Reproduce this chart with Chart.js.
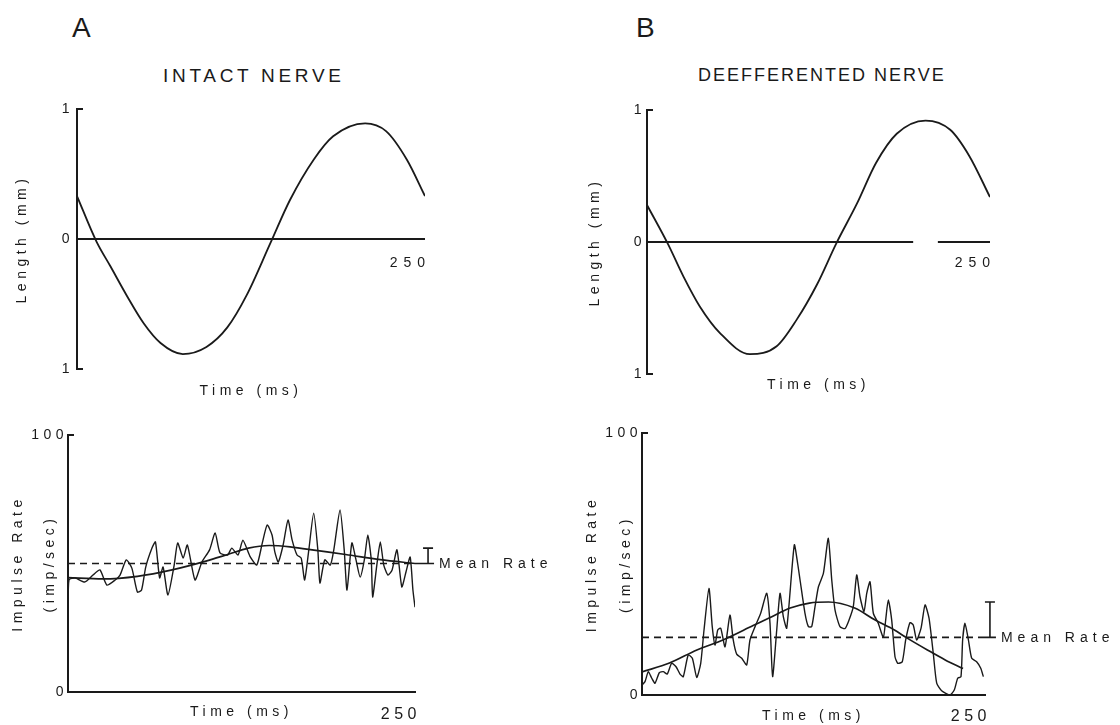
<!DOCTYPE html>
<html>
<head>
<meta charset="utf-8">
<script src="https://cdn.jsdelivr.net/npm/chart.js@4.4.1/dist/chart.umd.min.js"></script>
<style>
  body { margin: 0; background: #fff; }
  #page { position: relative; width: 1120px; height: 725px; overflow: hidden;
          font-family: "Liberation Sans", Arial, sans-serif; color: #1a1a1a; }
  .txt { position: absolute; white-space: nowrap; line-height: 1; }
  canvas { position: absolute; }
</style>
</head>
<body>
<div id="page">
  <div class="txt" style="left:72px;top:14px;font-size:28px;">A</div>
  <div class="txt" style="left:636px;top:14px;font-size:28px;">B</div>
  <div class="txt" style="left:163px;top:66px;font-size:19px;letter-spacing:3.7px;">INTACT NERVE</div>
  <div class="txt" style="left:698px;top:66px;font-size:18px;letter-spacing:2px;">DEEFFERENTED NERVE</div>
  <canvas id="lenA" width="470" height="330" style="left:0px;top:90px"></canvas>
  <canvas id="lenB" width="480" height="320" style="left:560px;top:90px"></canvas>
  <canvas id="rateA" width="560" height="305" style="left:0px;top:420px"></canvas>
  <canvas id="rateB" width="560" height="305" style="left:560px;top:420px"></canvas>
</div>
<script>
// ticks
const timeTicks = [250];
const timeTickLabels = ['250'];
const lengthTicks = [-1, 0, 1];
const lengthTickLabels = ['1', '0', '1'];
const rateTicks = [0, 100];
const rateTickLabels = ['0', '100'];

// length records (mm)
const lenTimeA = [0, 14, 24, 36, 48, 60, 76, 93, 108, 122, 139, 153, 170, 184, 207, 222, 237, 250];
const lenA = [0.33, -0.02, -0.21, -0.44, -0.65, -0.80, -0.885, -0.83, -0.68, -0.43, -0.03, 0.30, 0.61, 0.79, 0.89, 0.83, 0.61, 0.33];
const lenTimeB = [0, 15.5, 26.5, 38.6, 53.2, 75, 94.5, 109, 124, 138, 153, 167, 182, 203, 221, 235, 250];
const lenB = [0.28, -0.02, -0.26, -0.49, -0.69, -0.85, -0.79, -0.59, -0.32, -0.01, 0.29, 0.60, 0.82, 0.92, 0.85, 0.65, 0.34];
const zeroTimeA = [0, 250];
const zeroLevelA = [0, 0];
const zeroTimeB = [0, 194, 203, 212, 250];
const zeroLevelB = [0, 0, null, 0, 0];

// impulse rate, intact nerve
const rawTimeA = [0, 0.7, 5, 12, 18, 23, 28, 34, 37.5, 42, 46, 50, 53, 56, 60.5, 63, 66, 68.5, 72, 76.5,
  79, 83, 86, 91.5, 96.5, 102, 106, 109.5, 115, 118, 122.5, 126, 131, 136, 140, 143.5, 147, 149, 151.5, 155,
  158.5, 161.5, 165, 168, 170.5, 173.5, 177, 180, 181.5, 185, 189, 191.5, 196, 199, 201, 204.5, 207.5, 210.5, 213.5, 216,
  218.5, 219.5, 222.5, 225, 227.5, 230.5, 233.5, 237, 240.5, 243.5, 246.5, 248.5, 250];
const rawRateA = [33, 43.6, 44.4, 42.8, 45.5, 47.5, 41.6, 43.6, 45.5, 51.4, 48.2, 38.9, 39.7, 48.6, 56, 58.4, 44.4, 48.6, 37.7, 49.4,
  58, 52.1, 57.2, 43.6, 50.6, 55.3, 61.9, 54.1, 53.3, 56, 53.3, 59.1, 52.9, 49.4, 58, 65, 61.1, 54.5, 50.6, 57.2,
  66.9, 59.1, 53.3, 52.1, 43.6, 55.3, 69.6, 55.3, 42.4, 51.4, 49.4, 55.3, 70.8, 55.3, 39.7, 58, 51.4, 44.7, 51.4, 61.1,
  51.4, 37, 49.4, 58.4, 49.4, 45.5, 47.5, 55.3, 40.9, 46.7, 52.5, 39.7, 33];
const fitTimeA = [0, 25, 50, 75, 100, 115, 130, 145, 160, 180, 200, 225, 250];
const fitRateA = [44.5, 44, 45, 47.5, 51, 53.5, 56, 57, 56.5, 55, 53.5, 51.5, 50];
const meanTime = [0, 250];
const meanRateA = 50;
const peakRateA = 56;

// impulse rate, deefferented nerve
const rawTimeB = [0, 2.2, 4.6, 7.1, 9.5, 12.6, 15.5, 18.4, 21.6, 24.8, 27.7, 30.1, 33.7, 36.7, 39.9, 42.8, 45.2, 48.8, 51.2, 53.2,
  55.2, 57.4, 60.5, 64.1, 66.5, 69, 72.7, 76.3, 78.7, 82.4, 86.5, 90.9, 93.3, 95.2, 98.2, 100.6, 103, 105.5, 111, 113.5,
  115.2, 118.8, 121.3, 123.7, 126.1, 128.6, 132.2, 135.8, 138.3, 140.7, 144.3, 148, 150.9, 154, 156.5, 158.9, 161.8, 163.8, 166.2, 168.6,
  172.2, 175.9, 177.6, 179.5, 182, 184.4, 186.4, 189.7, 192.2, 195.3, 197.7, 200.2, 203.4, 206.3, 209.2, 212.3, 214.8, 218.4, 224.5, 227.6,
  230.1, 232.5, 233.7, 235.4, 237.9, 240.3, 243.9, 246.9, 248.8];
const rawRateB = [3.8, 5.1, 8.9, 6.4, 4.5, 8.5, 8.9, 8, 12.1, 10.8, 8, 7, 15.3, 14, 6.7, 12.1, 24.8, 40.7, 26.1, 19.1,
  24.8, 25.5, 18.4, 30.5, 21, 15.6, 14, 11.5, 21, 26.1, 31.2, 38.8, 27.4, 7, 24.8, 38.8, 29.9, 25.5, 57.3, 50,
  43.9, 31.2, 26.1, 26.1, 33.7, 41.3, 46.4, 59.8, 43.9, 32.4, 26.1, 25.4, 28.6, 33.7, 45.8, 37.5, 31.8, 38.8, 43.2, 31.2,
  27.4, 22, 28.6, 36.3, 28.6, 14.6, 12.1, 12.7, 21, 27.6, 26.7, 21, 25.5, 34.4, 29.3, 15.9, 4.5, 1.6, 0, 1.9,
  6.4, 7, 21, 27.4, 21, 14, 12.7, 10.2, 7];
const fitTimeB = [0, 20, 40, 59, 81, 93, 108, 122, 136, 155, 170, 184, 193, 208, 221, 234];
const fitRateB = [8.8, 12.2, 17.2, 21, 26.5, 29.5, 33.2, 35.1, 35.5, 33.2, 28.6, 24.8, 21.8, 17.2, 13.4, 10.1];
const meanRateB = 22;
const peakRateB = 35.5;

const INK = '#1a1a1a';
const FONT = '"Liberation Sans", Arial, sans-serif';

const pts = (ts, vs) => ts.map((t, i) => ({ x: t, y: vs[i] }));

// extra marks: inner ticks on the y axis, the end label on the zero line, the mean-rate bar
const figurePlugin = {
  id: 'figureMarks',
  beforeDraw(chart) { chart.ctx.letterSpacing = '4.5px'; },
  afterDatasetsDraw(chart, args, opts) {
    const { ctx, scales: { x, y } } = chart;
    ctx.save();
    ctx.strokeStyle = INK;
    ctx.fillStyle = INK;
    ctx.lineWidth = 2;
    (opts.brackets || []).forEach(v => {
      const py = y.getPixelForValue(v);
      ctx.beginPath();
      ctx.moveTo(x.left, py);
      ctx.lineTo(x.left + 6, py);
      ctx.stroke();
    });
    if (opts.endLabel) {
      ctx.letterSpacing = '6px';
      ctx.font = '14px ' + FONT;
      ctx.textAlign = 'right';
      ctx.textBaseline = 'middle';
      ctx.fillText(opts.endLabel.text, x.getPixelForValue(opts.endLabel.value) + 6, y.getPixelForValue(0) + opts.endLabel.dy);
    }
    if (opts.bar) {
      const b = opts.bar;
      const x0 = x.getPixelForValue(250), xb = x.getPixelForValue(b.at);
      const ym = y.getPixelForValue(b.mean), yt = y.getPixelForValue(b.peak);
      ctx.lineWidth = 1.6;
      ctx.beginPath();
      ctx.moveTo(x0, ym); ctx.lineTo(xb + 6, ym);
      ctx.moveTo(xb, ym); ctx.lineTo(xb, yt);
      ctx.moveTo(xb - 5, yt); ctx.lineTo(xb + 5, yt);
      ctx.stroke();
      ctx.letterSpacing = '5px';
      ctx.font = '14px ' + FONT;
      ctx.textAlign = 'left';
      ctx.textBaseline = 'middle';
      ctx.fillText(b.text, xb + 11, ym + 1);
    }
    ctx.restore();
  }
};

function buildChart(canvasId, spec) {
  const canvas = document.getElementById(canvasId);
  const cx = parseFloat(canvas.style.left), cy = parseFloat(canvas.style.top);
  const pad = {
    left: spec.area.left - cx - spec.yWidth,
    top: spec.area.top - cy,
    right: cx + canvas.width - spec.area.right,
    bottom: cy + canvas.height - spec.area.bottom - spec.xHeight
  };
  return new Chart(canvas, {
    type: 'line',
    data: { datasets: spec.datasets },
    options: {
      responsive: false,
      animation: false,
      devicePixelRatio: 1,
      layout: { padding: pad, autoPadding: false },
      elements: { point: { radius: 0 } },
      plugins: { legend: { display: false }, tooltip: { enabled: false }, figureMarks: spec.marks },
      scales: {
        x: {
          type: 'linear', min: 0, max: 250,
          grid: { display: false, drawTicks: false },
          border: { display: spec.xBorder, color: INK, width: 2 },
          afterBuildTicks: s => { s.ticks = timeTicks.map(v => ({ value: v })); },
          afterFit: s => { s.height = spec.xHeight; },
          ticks: {
            display: spec.xBorder, align: 'end', labelOffset: 6, padding: spec.xTickPad || 0,
            color: INK, font: { family: FONT, size: 16 },
            callback: (v, i) => timeTickLabels[i]
          },
          title: {
            display: true, text: 'Time (ms)', color: INK,
            font: { family: FONT, size: 14 },
            padding: { top: 0, bottom: spec.xTitlePad }
          }
        },
        y: {
          type: 'linear', min: spec.yMin, max: spec.yMax,
          grid: { display: false, drawTicks: false },
          border: { display: true, color: INK, width: 2 },
          afterBuildTicks: s => { s.ticks = spec.yTicks.map(v => ({ value: v })); },
          afterFit: s => { s.width = spec.yWidth; },
          ticks: {
            padding: spec.yTickPad, color: INK, font: { family: FONT, size: 14 },
            callback: (v, i) => spec.yTickLabels[i]
          },
          title: {
            display: true, text: spec.yTitle, color: INK,
            font: { family: FONT, size: 14, lineHeight: spec.yTitleLine },
            padding: { top: spec.yTitlePad, bottom: 0 }
          }
        }
      }
    },
    plugins: [figurePlugin]
  });
}

// A, length
buildChart('lenA', {
  area: { left: 77, top: 109, right: 425, bottom: 369 },
  yWidth: 77, xHeight: 40, xTitlePad: 9.6, xBorder: false,
  yMin: -1, yMax: 1, yTicks: lengthTicks, yTickLabels: lengthTickLabels,
  yTickPad: 3, yTitle: 'Length (mm)', yTitleLine: 1.2, yTitlePad: 13.6,
  marks: { brackets: [-1, 1], endLabel: { value: timeTicks[0], text: timeTickLabels[0], dy: 24 } },
  datasets: [
    { data: pts(zeroTimeA, zeroLevelA), borderColor: INK, borderWidth: 2, tension: 0 },
    { data: pts(lenTimeA, lenA), borderColor: INK, borderWidth: 1.8, cubicInterpolationMode: 'monotone' }
  ]
});

// B, length
buildChart('lenB', {
  area: { left: 647, top: 110, right: 990, bottom: 374 },
  yWidth: 87, xHeight: 30, xTitlePad: 10.6, xBorder: false,
  yMin: -1, yMax: 1, yTicks: lengthTicks, yTickLabels: lengthTickLabels,
  yTickPad: 1, yTitle: 'Length (mm)', yTitleLine: 1.2, yTitlePad: 26.6,
  marks: { brackets: [-1, 1], endLabel: { value: timeTicks[0], text: timeTickLabels[0], dy: 21 } },
  datasets: [
    { data: pts(zeroTimeB, zeroLevelB), borderColor: INK, borderWidth: 2, tension: 0, spanGaps: false },
    { data: pts(lenTimeB, lenB), borderColor: INK, borderWidth: 1.8, cubicInterpolationMode: 'monotone' }
  ]
});

// A, impulse rate
buildChart('rateA', {
  area: { left: 68, top: 435, right: 415, bottom: 692 },
  yWidth: 68, xHeight: 33, xTitlePad: 4.6, xBorder: true, xTickPad: 13.4,
  yMin: 0, yMax: 100, yTicks: rateTicks, yTickLabels: rateTickLabels,
  yTickPad: 0, yTitle: ['Impulse Rate', '(imp/sec)'], yTitleLine: 32 / 14, yTitlePad: 2,
  marks: { brackets: [100], bar: { mean: meanRateA, peak: peakRateA, at: 259.4, text: 'Mean Rate' } },
  datasets: [
    { data: pts(meanTime, [meanRateA, meanRateA]), borderColor: INK, borderWidth: 1.6, borderDash: [7, 5], tension: 0 },
    { data: pts(rawTimeA, rawRateA), borderColor: INK, borderWidth: 1.4, tension: 0.2 },
    { data: pts(fitTimeA, fitRateA), borderColor: INK, borderWidth: 1.7, cubicInterpolationMode: 'monotone' }
  ]
});

// B, impulse rate
buildChart('rateB', {
  area: { left: 642, top: 433, right: 985, bottom: 695 },
  yWidth: 82, xHeight: 30, xTitlePad: 0, xBorder: true, xTickPad: 12.4,
  yMin: 0, yMax: 100, yTicks: rateTicks, yTickLabels: rateTickLabels,
  yTickPad: 0, yTitle: ['Impulse Rate', '(imp/sec)'], yTitleLine: 34 / 14, yTitlePad: 15,
  marks: { brackets: [100], bar: { mean: meanRateB, peak: peakRateB, at: 253.6, text: 'Mean Rate' } },
  datasets: [
    { data: pts(meanTime, [meanRateB, meanRateB]), borderColor: INK, borderWidth: 1.6, borderDash: [7, 5], tension: 0 },
    { data: pts(rawTimeB, rawRateB), borderColor: INK, borderWidth: 1.4, tension: 0.2 },
    { data: pts(fitTimeB, fitRateB), borderColor: INK, borderWidth: 1.7, cubicInterpolationMode: 'monotone' }
  ]
});
</script>
</body>
</html>
